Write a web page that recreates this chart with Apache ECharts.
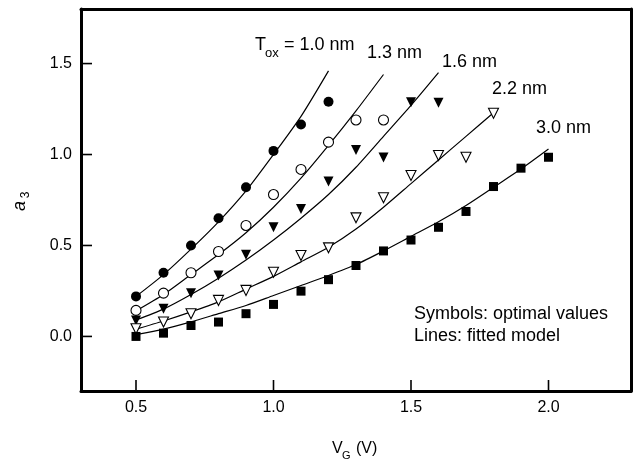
<!DOCTYPE html>
<html><head><meta charset="utf-8">
<script src="https://cdn.jsdelivr.net/npm/echarts@6/dist/echarts.min.js"></script>
<style>html,body{margin:0;padding:0;background:#fff}#c{width:636px;height:462px}</style>
</head><body><div id="c"></div>
<script>
// Gate voltage grid shared by symbols and fitted lines
const vg = [0.5,0.6,0.7,0.8,0.9,1.0,1.1,1.2,1.3,1.4,1.5,1.6,1.7,1.8,1.9,2.0];

// Optimal values (symbols)
const opt10 = [0.22,0.35,0.50,0.65,0.82,1.02,1.165,1.29];
const opt13 = [0.143,0.238,0.35,0.467,0.61,0.78,0.918,1.068,1.19,1.19];
const opt16 = [0.088,0.152,0.238,0.335,0.449,0.60,0.70,0.852,1.025,0.983,1.288,1.284];
const opt22 = [0.042,0.079,0.125,0.198,0.253,0.353,0.445,0.487,0.652,0.762,0.885,0.995,0.985,1.227];
const opt30 = [0.0,0.018,0.06,0.079,0.125,0.176,0.249,0.312,0.39,0.47,0.53,0.60,0.687,0.824,0.925,0.985];

// Fitted model (lines), read at the same VG grid
const fit10 = [0.22,0.34,0.48,0.63,0.80,1.00,1.21,1.46];
const fit13 = [0.14,0.23,0.34,0.45,0.57,0.71,0.87,1.05,1.24,1.44];
const fit16 = [0.09,0.15,0.23,0.32,0.42,0.53,0.65,0.78,0.93,1.10,1.27,1.45];
const fit22 = [0.04,0.085,0.135,0.19,0.26,0.33,0.41,0.49,0.59,0.71,0.84,0.97,1.10,1.23];
const fit30 = [0.01,0.04,0.08,0.125,0.17,0.225,0.28,0.335,0.395,0.47,0.55,0.63,0.72,0.82,0.92,1.03];

const xTicks = [0.5,1.0,1.5,2.0];
const yTicks = [0.0,0.5,1.0,1.5];
const thickness = ['1.0 nm','1.3 nm','1.6 nm','2.2 nm','3.0 nm'];

const X_MIN = 0.3, X_MAX = 2.3, Y_MIN = -0.3, Y_MAX = 1.8;
const FONT = '"Liberation Sans", Arial, sans-serif';
function pairs(ys){ return ys.map((y,i)=>[vg[i], y]); }

const optSets = [opt10,opt13,opt16,opt22,opt30];
const fitSets = [fit10,fit13,fit16,fit22,fit30];
const marks = [
  {symbol:'circle', fill:'#000', rot:0, size:10},
  {symbol:'circle', fill:'#fff', rot:0, size:10},
  {symbol:'triangle', fill:'#000', rot:180, size:10},
  {symbol:'triangle', fill:'#fff', rot:180, size:10},
  {symbol:'rect', fill:'#000', rot:0, size:9}
];

const series = [];
fitSets.forEach((f,i)=>{
  series.push({
    name: 'fit ' + thickness[i], type:'line', data: pairs(f), smooth:0.25,
    showSymbol:false, symbol:'none', silent:true,
    lineStyle:{color:'#000', width:1.2}, z:2
  });
});
optSets.forEach((o,i)=>{
  const m = marks[i];
  series.push({
    name: 'opt ' + thickness[i], type:'scatter', data: pairs(o),
    symbol: m.symbol, symbolSize: m.size, symbolRotate: m.rot,
    itemStyle:{color: m.fill, borderColor:'#000', borderWidth: m.fill === '#fff' ? 1.1 : 0, opacity:1}, z:3
  });
});

function txt(x, y, s, size, extra){
  return Object.assign({type:'text', x:x, y:y, style:{text:s, font: size + 'px ' + FONT, fill:'#000', textVerticalAlign:'middle'}, z:10}, extra||{});
}

function mainAxis(minV, maxV, ticks, pos){
  return {type:'value', min:minV, max:maxV, position:pos, z:5,
    axisLine:{show:true, onZero:false, lineStyle:{color:'#000', width:3}}, splitLine:{show:false},
    axisTick:{show:false},
    axisLabel:{show:true, color:'#000', fontSize:16, fontFamily:FONT, margin:9, customValues:ticks, formatter:v=>v.toFixed(1)}
  };
}
function frameAxis(minV, maxV, pos){
  return {type:'value', min:minV, max:maxV, position:pos, z:5,
    axisLine:{show:true, onZero:false, lineStyle:{color:'#000', width:3}}, splitLine:{show:false},
    axisTick:{show:false}, axisLabel:{show:false}
  };
}

const textGraphics = [
  txt(255, 45, 'T', 18),
  txt(265, 53, 'ox', 13),
  txt(284, 45, '= 1.0 nm', 18),
  txt(367, 53, thickness[1], 18),
  txt(442, 62, thickness[2], 18),
  txt(492, 89, thickness[3], 18),
  txt(536, 128, thickness[4], 18),
  txt(414, 314, 'Symbols: optimal values', 18),
  txt(414, 336, 'Lines: fitted model', 18),
  txt(332, 449, 'V', 16),
  txt(342, 456, 'G', 11),
  txt(356, 449, '(V)', 16),
  {type:'text', x:20, y:206, rotation:Math.PI/2, style:{text:'a', font:'italic 18px ' + FONT, fill:'#000', textAlign:'center', textVerticalAlign:'middle'}, z:10},
  {type:'text', x:26, y:195, rotation:Math.PI/2, style:{text:'3', font:'12px ' + FONT, fill:'#000', textAlign:'center', textVerticalAlign:'middle'}, z:10}
];

const chart = echarts.init(document.getElementById('c'), null, {renderer:'canvas'});
chart.setOption({
  animation:false,
  backgroundColor:'#fff',
  grid:{left:81, right:5, top:9, bottom:71, show:false},
  xAxis:[mainAxis(X_MIN, X_MAX, xTicks, 'bottom'), frameAxis(X_MIN, X_MAX, 'top')],
  yAxis:[mainAxis(Y_MIN, Y_MAX, yTicks, 'left'), frameAxis(Y_MIN, Y_MAX, 'right')],
  series: series
});

// inward tick marks placed through the chart's own scales
const TICK_LEN = 11, TICK_W = 1.6;
const tickGraphics = [];
xTicks.forEach(t=>{
  const p = chart.convertToPixel({xAxisIndex:0, yAxisIndex:0}, [t, Y_MIN]);
  tickGraphics.push({type:'rect', shape:{x:p[0]-TICK_W/2, y:p[1]-TICK_LEN, width:TICK_W, height:TICK_LEN}, style:{fill:'#000'}, z:20, silent:true});
});
yTicks.forEach(t=>{
  const p = chart.convertToPixel({xAxisIndex:0, yAxisIndex:0}, [X_MIN, t]);
  tickGraphics.push({type:'rect', shape:{x:p[0], y:p[1]-TICK_W/2, width:TICK_LEN, height:TICK_W}, style:{fill:'#000'}, z:20, silent:true});
});
chart.setOption({graphic: textGraphics.concat(tickGraphics)});
</script></body></html>
